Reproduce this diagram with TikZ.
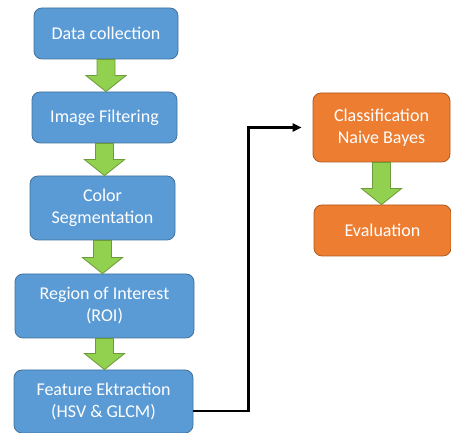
\documentclass[tikz,border=0pt]{standalone}
\usepackage{fontspec}
\setmainfont{Carlito}
\usetikzlibrary{arrows.meta,calc}

\definecolor{boxblue}{HTML}{5B9BD5}
\definecolor{lineblue}{HTML}{41719C}
\definecolor{boxorange}{HTML}{ED7D31}
\definecolor{lineorange}{HTML}{AE5A21}
\definecolor{arrowgreen}{HTML}{92D050}
\definecolor{linegreen}{HTML}{6D9B3A}

\begin{document}
\begin{tikzpicture}[
    x=1pt, y=1pt,
    >={Triangle[length=9pt,width=8pt]},
    stage/.style={draw=lineblue, fill=boxblue, line width=0.8pt,
        rounded corners=8pt, text=white, align=center, inner sep=0pt,
        font=\fontsize{18}{22}\selectfont},
    result/.style={stage, draw=lineorange, fill=boxorange},
    blockarrow/.style={draw=linegreen, fill=arrowgreen, line width=0.8pt}
]
    \useasboundingbox (0,0) rectangle (451,433);

    % Left column
    \node[stage, minimum width=144, minimum height=51] (dc)  at (106,399.5) {Data collection};
    \node[stage, minimum width=145, minimum height=51] (imf) at (104.5,315.5) {Image Filtering};
    \node[stage, minimum width=145, minimum height=64] (cs)  at (102.5,225) {Color\\Segmentation};
    \node[stage, minimum width=179, minimum height=64] (roi) at (104.5,127) {Region of Interest\\(ROI)};
    \node[stage, minimum width=179, minimum height=63] (fe)  at (103.5,31.5) {Feature Ektraction\\(HSV \& GLCM)};

    % Right column
    \node[result, minimum width=137, minimum height=69] (cnb) at (381.5,305.5) {Classification\\Naive Bayes};
    \node[result, minimum width=137, minimum height=51] (ev)  at (382.5,202.5) {Evaluation};

    % Green block arrows
    \foreach \a/\b in {dc/imf, imf/cs, cs/roi, roi/fe, cnb/ev}
        \draw[blockarrow] let \p1=(\a.south), \p2=(\b.north) in
            (\x1-9,\y1) -- (\x1-9,\y2+16) -- (\x1-20,\y2+16) -- (\x1,\y2)
            -- (\x1+20,\y2+16) -- (\x1+9,\y2+16) -- (\x1+9,\y1) -- cycle;

    % Connector to the classifier
    \draw[->, line width=2.2pt, shorten >=11pt]
        ([yshift=-9.5pt]fe.east) -- ++(55,0) |- (cnb.west);

\end{tikzpicture}
\end{document}
